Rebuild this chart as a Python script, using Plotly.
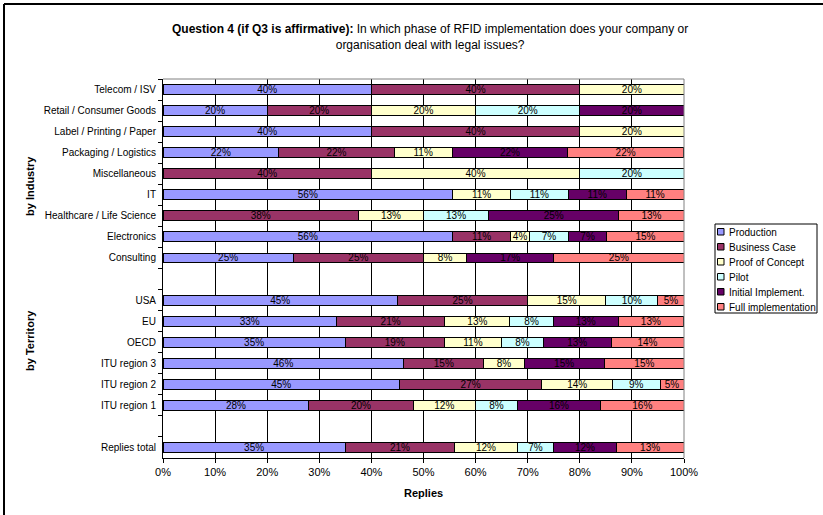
import plotly.graph_objects as go

categories = [
    "Telecom / ISV", "Retail / Consumer Goods", "Label / Printing / Paper",
    "Packaging / Logistics", "Miscellaneous", "IT", "Healthcare / Life Science",
    "Electronics", "Consulting", " ",
    "USA", "EU", "OECD", "ITU region 3", "ITU region 2", "ITU region 1", "  ",
    "Replies total",
]

production = [40, 20, 40, 22.2, None, 55.6, None, 55.6, 25, None,
              45, 33.3, 35, 46.2, 45.4, 28, None, 35]
business_case = [40, 20, 40, 22.2, 40, None, 37.5, 11.1, 25, None,
                 25, 20.8, 19, 15.4, 27.3, 20, None, 21]
proof_of_concept = [20, 20, 20, 11.1, 40, 11.1, 12.5, 3.7, 8.3, None,
                    15, 12.5, 11, 7.7, 13.6, 12, None, 12]
pilot = [None, 20, None, None, 20, 11.1, 12.5, 7.4, None, None,
         10, 8.3, 8, None, 9.1, 8, None, 7]
initial_impl = [None, 20, None, 22.2, None, 11.1, 25, 7.4, 16.7, None,
                None, 12.5, 13, 15.4, None, 16, None, 12]
full_impl = [None, None, None, 22.2, None, 11.1, 12.5, 14.8, 25, None,
             5, 12.5, 14, 15.4, 4.6, 16, None, 13]

series_names = ["Production", "Business Case", "Proof of Concept", "Pilot",
                "Initial Implement.", "Full implementation"]
series_values = [production, business_case, proof_of_concept, pilot,
                 initial_impl, full_impl]
series_colors = ["#9999FF", "#993366", "#FFFFCC", "#CCFFFF", "#660066", "#FF8080"]

x_ticks = list(range(0, 101, 10))
x_tick_labels = [f"{v}%" for v in x_ticks]

FONT = "Arial, Liberation Sans, sans-serif"

fig = go.Figure()
for name, vals, col in zip(series_names, series_values, series_colors):
    fig.add_trace(go.Bar(
        y=categories, x=vals, name=name, orientation="h",
        marker=dict(color=col, line=dict(color="#000000", width=1)),
        texttemplate="%{x:.0f}%", textposition="inside",
        insidetextanchor="middle", textangle=0,
        textfont=dict(family=FONT, size=10, color="#000000"),
        showlegend=False, hoverinfo="skip",
    ))

L, R, T, B = 163, 139, 79, 57
W, H = 823, 515
pw, ph = W - L - R, H - T - B

def px_x(x):
    return (x - L) / pw

def px_y(y):
    return (H - B - y) / ph

fig.update_layout(
    width=W, height=H,
    margin=dict(l=L, r=R, t=T, b=B, pad=0, autoexpand=False),
    paper_bgcolor="white", plot_bgcolor="white",
    barmode="stack", bargap=0.53,
    font=dict(family=FONT, size=11, color="#000000"),
    uniformtext=dict(minsize=10, mode="show"),
    showlegend=False,
    xaxis=dict(
        range=[0, 100], tickvals=x_ticks, ticktext=x_tick_labels,
        showgrid=True, gridcolor="#000000", gridwidth=1,
        showline=True, linecolor="#000000", linewidth=1,
        ticks="outside", ticklen=4, tickcolor="#000000",
        tickfont=dict(size=11), zeroline=False, fixedrange=True,
    ),
    yaxis=dict(
        type="category", categoryorder="array", categoryarray=categories,
        autorange="reversed",
        showgrid=False, showline=True, linecolor="#000000", linewidth=1,
        ticks="outside", ticklen=4, tickcolor="#000000", tickson="boundaries",
        tickfont=dict(size=10), ticklabelstandoff=4, fixedrange=True,
    ),
)

annotations = [
    dict(text="<b>Question 4 (if Q3 is affirmative):</b> In which phase of RFID implementation does your company or<br>organisation deal with legal issues?",
         x=px_x(430), y=px_y(37.5), xref="paper", yref="paper",
         xanchor="center", yanchor="middle", showarrow=False,
         font=dict(family=FONT, size=12)),
    dict(text="<b>Replies</b>", x=0.5, y=px_y(493), xref="paper", yref="paper",
         xanchor="center", yanchor="middle", showarrow=False,
         font=dict(family=FONT, size=11)),
    dict(text="<b>by Industry</b>", x=px_x(30), y=px_y(186), xref="paper", yref="paper",
         xanchor="center", yanchor="middle", showarrow=False, textangle=-90,
         font=dict(family=FONT, size=11)),
    dict(text="<b>by Territory</b>", x=px_x(30), y=px_y(341), xref="paper", yref="paper",
         xanchor="center", yanchor="middle", showarrow=False, textangle=-90,
         font=dict(family=FONT, size=11)),
]

shapes = [
    # plot area top and right border (gray)
    dict(type="line", xref="paper", yref="paper", x0=0, x1=1, y0=1, y1=1,
         line=dict(color="#808080", width=1)),
    dict(type="line", xref="paper", yref="paper", x0=1, x1=1, y0=0, y1=1,
         line=dict(color="#808080", width=1)),
    # chart outer frame (left and top)
    dict(type="line", xref="paper", yref="paper", x0=px_x(4), x1=px_x(4),
         y0=px_y(4), y1=px_y(520), line=dict(color="#000000", width=2)),
    dict(type="line", xref="paper", yref="paper", x0=px_x(4), x1=px_x(830),
         y0=px_y(4), y1=px_y(4), line=dict(color="#000000", width=2)),
    # legend box
    dict(type="rect", xref="paper", yref="paper",
         x0=px_x(715), x1=px_x(817), y0=px_y(224), y1=px_y(313),
         line=dict(color="#000000", width=1), fillcolor="white"),
]

# legend entries (swatch + label)
for i, (name, col) in enumerate(zip(series_names, series_colors)):
    yc = 232 + 15 * i
    shapes.append(dict(type="rect", xref="paper", yref="paper",
                       x0=px_x(717.5), x1=px_x(724), y0=px_y(yc - 3.5), y1=px_y(yc + 3),
                       line=dict(color="#000000", width=1), fillcolor=col))
    annotations.append(dict(text=name, x=px_x(727), y=px_y(yc), xref="paper", yref="paper",
                            xanchor="left", yanchor="middle", showarrow=False,
                            font=dict(family=FONT, size=10)))

fig.update_layout(annotations=annotations, shapes=shapes)

fig.write_html(
    "out.html",
    config={"displayModeBar": False, "staticPlot": True},
    post_script="document.body.style.margin='0';document.body.style.padding='0';",
)
